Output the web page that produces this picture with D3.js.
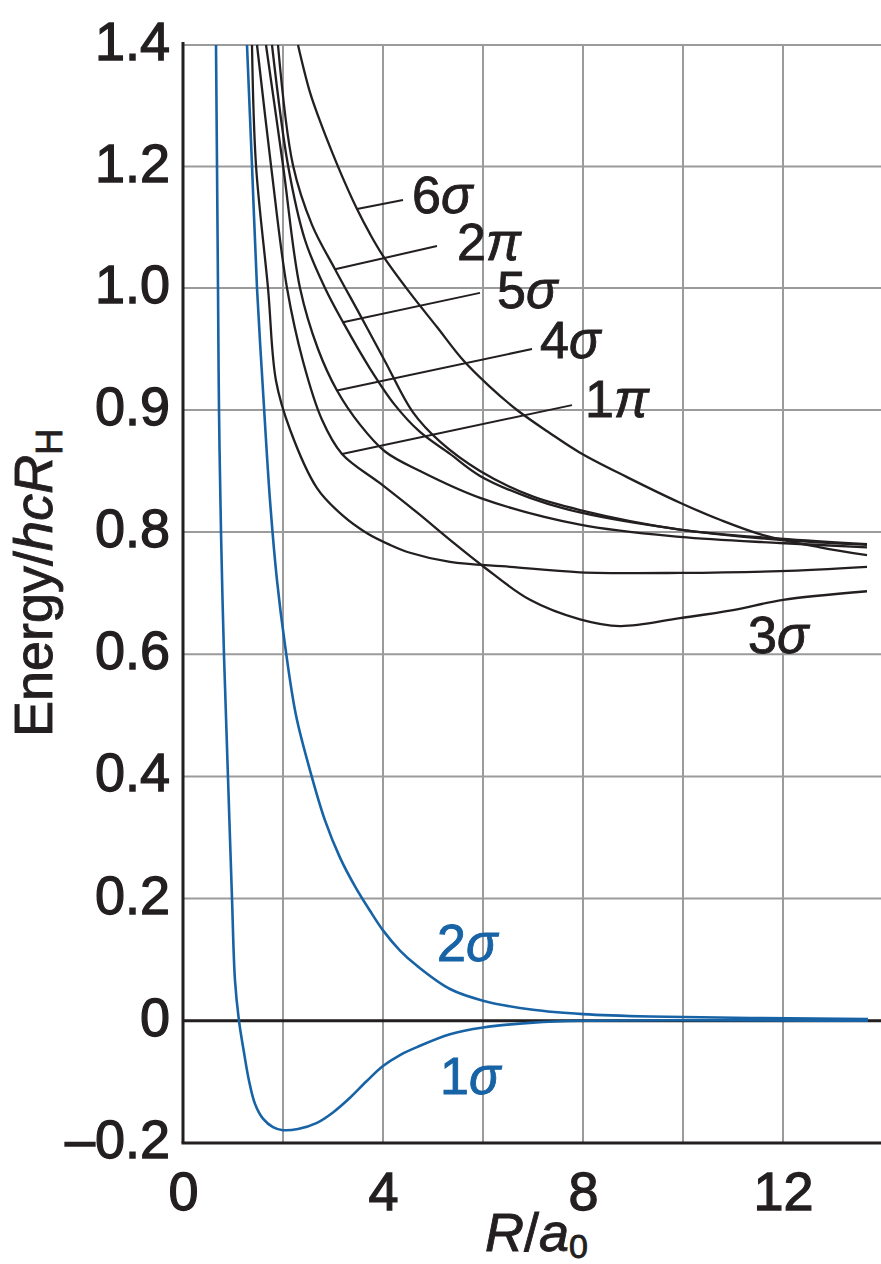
<!DOCTYPE html>
<html>
<head>
<meta charset="utf-8">
<script src="https://cdn.jsdelivr.net/npm/d3@7"></script>
<style>
  body { margin: 0; background: #fff; }
  svg { display: block; }
  text { font-family: "Liberation Sans", Arial, sans-serif; }
</style>
</head>
<body>
<svg width="881" height="1264"></svg>
<script>
// axis ticks
var R_TICKS = [0, 4, 8, 12];
var R_GRID = [2, 4, 6, 8, 10, 12];
var E_TICKS = [-0.2, 0, 0.2, 0.4, 0.6, 0.8, 0.9, 1.0, 1.2, 1.4];
var E_TICK_LABELS = ["\u20130.2", "0", "0.2", "0.4", "0.6", "0.8", "0.9", "1.0", "1.2", "1.4"];

// curves, [R/a0, E/hcRH]
var sigma1 = [[0.66,1.40],[0.68,1.202],[0.70,1.00],[0.72,0.90],[0.76,0.80],[0.82,0.598],[0.90,0.398],[0.98,0.200],[1.04,0.066],[1.12,0.0],[1.22,-0.052],[1.32,-0.098],[1.44,-0.136],[1.60,-0.160],[1.80,-0.174],[2.00,-0.179],[2.30,-0.177],[2.68,-0.167],[3.00,-0.150],[3.34,-0.126],[3.67,-0.099],[4.00,-0.074],[4.34,-0.056],[4.68,-0.043],[5.34,-0.022],[6.00,-0.011],[7.00,-0.003],[8.00,0],[13.7,0]];
var sigma2 = [[1.28,1.40],[1.38,1.202],[1.48,1.00],[1.60,0.916],[1.74,0.826],[1.88,0.721],[2.04,0.615],[2.26,0.500],[2.54,0.410],[2.84,0.328],[3.14,0.267],[3.44,0.220],[3.74,0.180],[4.00,0.148],[4.34,0.115],[4.68,0.090],[5.34,0.052],[6.00,0.033],[7.00,0.018],[8.00,0.011],[9.34,0.007],[13.7,0.003]];
var sigma3 = [[1.48,1.40],[1.76,1.202],[2.08,1.000],[2.40,0.940],[2.78,0.892],[3.18,0.864],[3.94,0.840],[4.68,0.816],[5.34,0.787],[6.00,0.744],[6.94,0.689],[7.94,0.657],[8.74,0.646],[9.94,0.659],[11.0,0.672],[12.0,0.689],[13.68,0.703]];
var pi1 = [[1.38,1.40],[1.46,1.202],[1.70,1.000],[1.86,0.924],[2.14,0.884],[2.68,0.836],[3.18,0.814],[3.68,0.798],[4.14,0.779],[4.54,0.766],[5.34,0.751],[6.54,0.743],[7.94,0.734],[9.94,0.733],[11.94,0.736],[13.68,0.743]];
var sigma4 = [[1.66,1.40],[2.00,1.202],[2.34,1.000],[2.70,0.950],[3.08,0.916],[3.54,0.888],[4.04,0.866],[4.74,0.850],[5.94,0.828],[7.94,0.806],[9.94,0.792],[11.94,0.782],[13.68,0.775]];
var sigma5 = [[1.78,1.40],[2.10,1.202],[2.44,1.079],[2.84,1.000],[3.20,0.972],[3.74,0.934],[4.24,0.904],[4.74,0.882],[5.34,0.864],[5.94,0.846],[6.94,0.828],[7.94,0.816],[9.94,0.802],[11.94,0.787],[13.68,0.779]];
var pi2 = [[1.90,1.40],[2.20,1.202],[2.58,1.104],[3.04,1.031],[3.54,0.978],[4.04,0.940],[4.60,0.898],[5.14,0.874],[5.94,0.850],[6.94,0.830],[7.94,0.818],[9.94,0.802],[11.94,0.789],[13.68,0.780]];
var sigma6 = [[2.30,1.40],[2.54,1.322],[2.78,1.266],[3.00,1.220],[3.24,1.173],[3.48,1.130],[3.74,1.089],[4.00,1.053],[4.54,0.996],[5.08,0.968],[5.60,0.941],[6.14,0.919],[6.68,0.900],[7.34,0.881],[7.94,0.865],[8.88,0.845],[9.94,0.824],[10.74,0.810],[11.6,0.795],[12.74,0.775],[13.68,0.762]];

var blueCurves = [sigma1, sigma2];
var blackCurves = [pi1, sigma3, sigma4, sigma5, pi2, sigma6];

// curve labels
var labelDigit = ["6", "2", "5", "4", "1", "3", "2", "1"];
var labelGreek = ["\u03c3", "\u03c0", "\u03c3", "\u03c3", "\u03c0", "\u03c3", "\u03c3", "\u03c3"];
var labelAt = [[4.58,1.123],[5.48,1.046],[6.28,0.984],[7.14,0.943],[8.04,0.894],[11.3,0.602],[5.08,0.098],[5.14,-0.120]];
var leaderFrom = [[3.48,1.130],[3.04,1.031],[3.20,0.972],[3.08,0.916],[3.18,0.864]];
var leaderTo = [[4.40,1.145],[5.08,1.069],[5.94,0.996],[6.98,0.950],[7.78,0.904]];

var ink = "#231f20", blue = "#1763a6", grid = "#9b9b9b";

var svg = d3.select("svg");

// R scale is linear, energy scale is stretched between 0.8 and 1.0
var x = d3.scaleLinear().domain([0, 14]).range([183, 883]);
var y = d3.scaleLinear().domain([-0.2, 0.8, 1.0, 1.4]).range([1143, 532, 288, 45]);

svg.append("defs").append("clipPath").attr("id", "plot")
	.append("rect").attr("x", x(0)).attr("y", y(1.4) - 1)
	.attr("width", 881 - x(0)).attr("height", y(-0.2) - y(1.4) + 1);

// grid
svg.append("g").selectAll("line")
	.data(E_TICKS).enter().append("line")
	.attr("x1", x(0)).attr("x2", 881)
	.attr("y1", d => y(d)).attr("y2", d => y(d))
	.attr("stroke", grid).attr("stroke-width", 2);
svg.append("g").selectAll("line")
	.data(R_GRID).enter().append("line")
	.attr("x1", d => x(d)).attr("x2", d => x(d))
	.attr("y1", y(1.4)).attr("y2", y(-0.2))
	.attr("stroke", grid).attr("stroke-width", 2);

// zero line
svg.append("line")
	.attr("x1", x(0)).attr("x2", 881)
	.attr("y1", y(0)).attr("y2", y(0))
	.attr("stroke", ink).attr("stroke-width", 3);

var line = d3.line()
	.x(d => x(d[0]))
	.y(d => y(d[1]))
	.curve(d3.curveCatmullRom.alpha(0.5));

var curves = svg.append("g").attr("clip-path", "url(#plot)").attr("fill", "none");
curves.selectAll(".black")
	.data(blackCurves).enter().append("path")
	.attr("class", "black")
	.attr("d", line)
	.attr("stroke", ink).attr("stroke-width", 2.3);
curves.selectAll(".blue")
	.data(blueCurves).enter().append("path")
	.attr("class", "blue")
	.attr("d", line)
	.attr("stroke", blue).attr("stroke-width", 2.6);

// leader lines
svg.append("g").selectAll("line")
	.data(leaderFrom).enter().append("line")
	.attr("x1", d => x(d[0])).attr("y1", d => y(d[1]))
	.attr("x2", (d, i) => x(leaderTo[i][0])).attr("y2", (d, i) => y(leaderTo[i][1]))
	.attr("stroke", ink).attr("stroke-width", 2);

// curve labels
var labels = svg.append("g").selectAll("text")
	.data(labelAt).enter().append("text")
	.attr("x", d => x(d[0])).attr("y", d => y(d[1]))
	.attr("font-size", 52)
	.attr("fill", (d, i) => i < 6 ? ink : blue)
	.attr("stroke", (d, i) => i < 6 ? ink : blue)
	.attr("stroke-width", 0.9);
labels.append("tspan").text((d, i) => labelDigit[i]);
labels.append("tspan").attr("font-style", "italic").text((d, i) => labelGreek[i]);

// axes
var yAxis = svg.append("g")
	.attr("transform", "translate(" + x(0) + ",0)")
	.call(d3.axisLeft(y).tickValues(E_TICKS).tickSize(0).tickPadding(13)
		.tickFormat((d, i) => E_TICK_LABELS[i]));
var xAxis = svg.append("g")
	.attr("transform", "translate(0," + y(-0.2) + ")")
	.call(d3.axisBottom(x).tickValues(R_TICKS).tickSize(0).tickPadding(29));

svg.selectAll(".domain").attr("stroke", ink).attr("stroke-width", 3);
yAxis.select(".domain").attr("d", "M0," + (y(1.4) - 3) + "V" + y(-0.2));
xAxis.select(".domain").attr("d", "M" + (x(0) - 1.5) + ",0H881");
svg.selectAll(".tick text")
	.attr("font-family", "Liberation Sans, Arial, sans-serif")
	.attr("font-size", 54)
	.attr("fill", ink).attr("stroke", ink).attr("stroke-width", 1.3);
yAxis.selectAll(".tick text").attr("dy", "0.27em");

// axis titles
var yTitle = svg.append("text")
	.attr("transform", "translate(52,737) rotate(-90)")
	.attr("font-size", 54)
	.attr("fill", ink).attr("stroke", ink).attr("stroke-width", 0.9);
yTitle.append("tspan").text("Energy/");
yTitle.append("tspan").attr("font-style", "italic").text("hcR");
yTitle.append("tspan").attr("font-size", 36).attr("dy", 10).text("H");

var xTitle = svg.append("text")
	.attr("x", 485).attr("y", 1251)
	.attr("font-size", 54)
	.attr("fill", ink).attr("stroke", ink).attr("stroke-width", 0.9);
xTitle.append("tspan").attr("font-style", "italic").text("R");
xTitle.append("tspan").text("/");
xTitle.append("tspan").attr("font-style", "italic").text("a");
xTitle.append("tspan").attr("font-size", 34).attr("dy", 7).text("0");
</script>
</body>
</html>
